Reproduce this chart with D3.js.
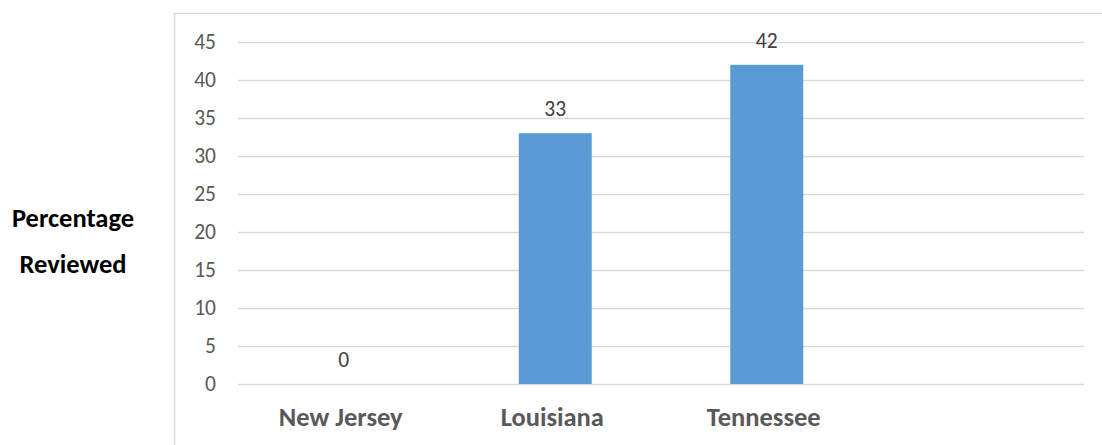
<!DOCTYPE html>
<html>
<head>
<meta charset="utf-8">
<script src="https://cdn.jsdelivr.net/npm/d3@7/dist/d3.min.js"></script>
<style>
  html, body { margin: 0; padding: 0; background: #fff; }
  svg { display: block; font-family: Carlito, Lato, "Liberation Sans", sans-serif; }
</style>
</head>
<body>
<svg id="chart" width="1102" height="445"></svg>
<script>
// Share of cases reviewed, by state
const states = ["New Jersey", "Louisiana", "Tennessee", ""];
const reviewed = [0, 33, 42, null];
const yTicks = [0, 5, 10, 15, 20, 25, 30, 35, 40, 45];
const yTitle = ["Percentage", "Reviewed"];

const FONT = "Carlito, Lato, 'Liberation Sans', sans-serif";
const svg = d3.select("#chart");
const W = 1102, H = 445;
const plot = { left: 238, right: 1084, top: 42, bottom: 384 };

// chart frame
svg.append("rect")
  .attr("x", 174.5).attr("y", 13.5)
  .attr("width", W).attr("height", H)
  .attr("fill", "none").attr("stroke", "#d9d9d9").attr("stroke-width", 1.5);

const x = d3.scaleBand().domain(states)
  .range([plot.left, plot.right]).paddingInner(0.655).paddingOuter(0.3275);
const y = d3.scaleLinear().domain([0, 45]).range([plot.bottom, plot.top]);

// gridlines + tick labels
const yAxis = d3.axisLeft(y).tickValues(yTicks)
  .tickSize(-(plot.right - plot.left)).tickPadding(22);
const gy = svg.append("g").attr("transform", `translate(${plot.left},0)`).call(yAxis);
gy.select(".domain").remove();
gy.selectAll(".tick line").attr("stroke", "#d9d9d9").attr("stroke-width", 1.5);
gy.selectAll(".tick text").attr("fill", "#595959").attr("font-size", 21.5)
  .attr("font-family", FONT);

// bars
const data = states.map((s, i) => ({ s, v: reviewed[i] })).filter(d => d.v !== null);
svg.append("g").selectAll("rect").data(data).join("rect")
  .attr("x", d => x(d.s)).attr("width", x.bandwidth())
  .attr("y", d => y(d.v)).attr("height", d => y(0) - y(d.v))
  .attr("fill", "#5b9bd5");

// value labels
svg.append("g").selectAll("text").data(data).join("text")
  .attr("x", d => x(d.s) + x.bandwidth() / 2)
  .attr("y", d => y(d.v) - 17)
  .attr("text-anchor", "middle").attr("fill", "#404040").attr("font-size", 21.5)
  .text(d => d.v);

// category labels
const xAxis = d3.axisBottom(x).tickSize(0).tickPadding(0);
const gx = svg.append("g").attr("transform", `translate(0,${plot.bottom})`).call(xAxis);
gx.select(".domain").remove();
gx.selectAll(".tick text").attr("fill", "#595959").attr("font-size", 26.5)
  .attr("font-weight", "bold").attr("dy", null).attr("dx", -3).attr("y", 42)
  .attr("font-family", FONT);

// axis title
svg.append("g").selectAll("text").data(yTitle).join("text")
  .attr("x", 73).attr("y", (d, i) => 227 + i * 46)
  .attr("text-anchor", "middle").attr("font-weight", "bold").attr("font-size", 26.5)
  .attr("fill", "#000").text(d => d);
</script>
</body>
</html>
